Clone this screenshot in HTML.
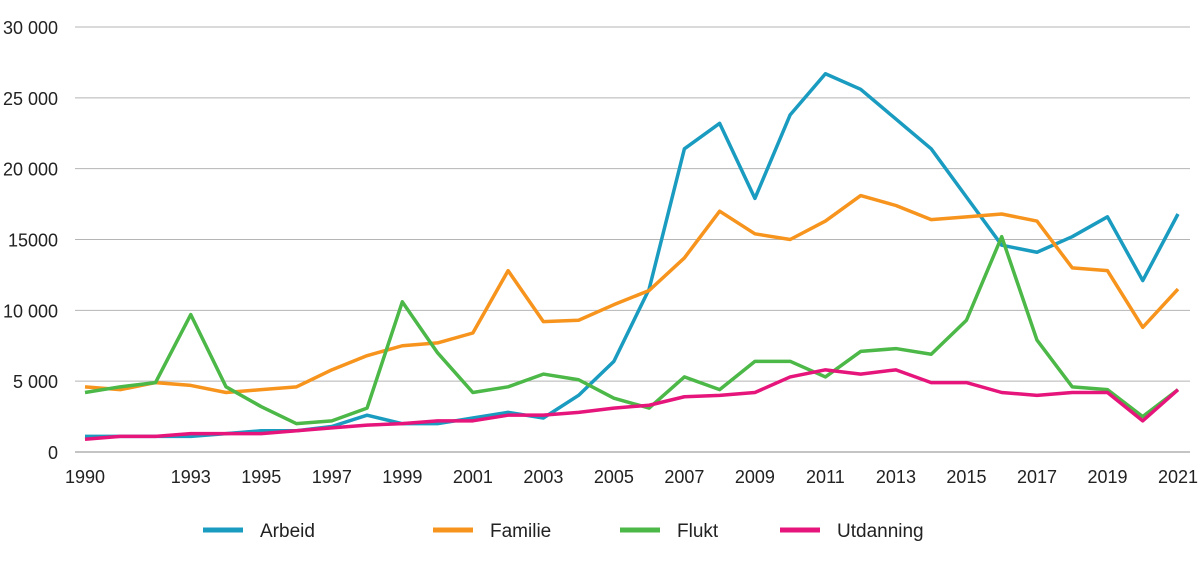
<!DOCTYPE html>
<html><head><meta charset="utf-8"><style>
body{margin:0;background:#fff;font-family:"Liberation Sans",sans-serif}
svg text{font-family:"Liberation Sans",sans-serif;fill:#222}
</style></head><body>
<svg id="c" width="1200" height="558"></svg>
<script>
const years=[1990,1991,1992,1993,1994,1995,1996,1997,1998,1999,2000,2001,2002,2003,2004,2005,2006,2007,2008,2009,2010,2011,2012,2013,2014,2015,2016,2017,2018,2019,2020,2021];
const xTickLabels=[1990,1993,1995,1997,1999,2001,2003,2005,2007,2009,2011,2013,2015,2017,2019,2021];
const yTicks=[0,5000,10000,15000,20000,25000,30000];
const yTickLabels=["0","5 000","10 000","15000","20 000","25 000","30 000"];
const arbeid=[1100,1100,1100,1100,1300,1500,1500,1800,2600,2000,2000,2400,2800,2400,4000,6400,11500,21400,23200,17900,23800,26700,25600,23500,21400,18000,14600,14100,15200,16600,12100,16800];
const familie=[4600,4400,4900,4700,4200,4400,4600,5800,6800,7500,7700,8400,12800,9200,9300,10400,11400,13700,17000,15400,15000,16300,18100,17400,16400,16600,16800,16300,13000,12800,8800,11500];
const flukt=[4200,4600,4900,9700,4600,3200,2000,2200,3100,10600,7000,4200,4600,5500,5100,3800,3100,5300,4400,6400,6400,5300,7100,7300,6900,9300,15200,7900,4600,4400,2500,4400];
const utdanning=[900,1100,1100,1300,1300,1300,1500,1700,1900,2000,2200,2200,2600,2600,2800,3100,3300,3900,4000,4200,5300,5800,5500,5800,4900,4900,4200,4000,4200,4200,2200,4400];
const seriesNames=["Arbeid","Familie","Flukt","Utdanning"];
const svg=document.getElementById('c');const NS="http://www.w3.org/2000/svg";
const x=y=>85+(y-1990)*(1178-85)/31;
const yS=v=>452-v*(452-27)/30000;
function mk(t,a,p){const e=document.createElementNS(NS,t);for(const k in a)e.setAttribute(k,a[k]);(p||svg).appendChild(e);return e;}
yTicks.forEach((v,i)=>{
 const l=mk('line',{x1:75,x2:1190,y1:yS(v),y2:yS(v),stroke:v===0?'#888':'#b5b5b5','stroke-width':1});
 
 
 const t=mk('text',{x:58,y:yS(v)+7,'text-anchor':'end','font-size':18});t.textContent=yTickLabels[i];
 
 
});
xTickLabels.forEach(yr=>{
 const t=mk('text',{x:x(yr),y:483,'text-anchor':'middle','font-size':18});t.textContent=yr;
 
 
});
const data=[arbeid,familie,flukt,utdanning];
const colors=['#1a9bc0','#f7941d','#4cb848','#e6157b'];
const legX=[203,433,620,780];
data.forEach((s,i)=>{
 const p=mk('polyline',{points:s.map((v,j)=>x(years[j])+','+yS(v)).join(' '),fill:'none',stroke:colors[i],'stroke-width':3.5,'stroke-linejoin':'round'});
 
 
 const g=mk('g',{});
 
 
 mk('line',{x1:legX[i],x2:legX[i]+40,y1:530,y2:530,stroke:colors[i],'stroke-width':5},g);
 const t=mk('text',{x:legX[i]+57,y:537,'font-size':19},g);t.textContent=seriesNames[i];
});
</script>
</body></html>
